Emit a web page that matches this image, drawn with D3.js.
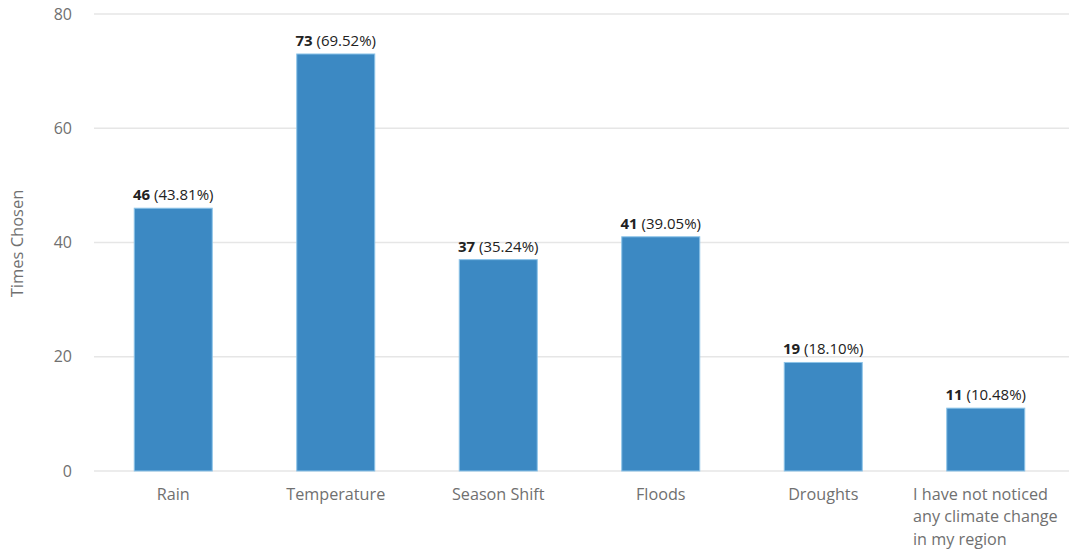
<!DOCTYPE html>
<html>
<head>
<meta charset="utf-8">
<script src="https://cdn.jsdelivr.net/npm/d3@7"></script>
<style>
  html, body { margin: 0; padding: 0; background: #fff; }
  svg { display: block; font-family: "Open Sans", sans-serif; }
</style>
</head>
<body>
<svg id="chart" width="1069" height="550"></svg>
<script>
// Survey responses: noticed climate changes
const categories = ["Rain", "Temperature", "Season Shift", "Floods", "Droughts",
  "I have not noticed any climate change in my region"];
const categoryLines = [["Rain"], ["Temperature"], ["Season Shift"], ["Floods"], ["Droughts"],
  ["I have not noticed", "any climate change", "in my region"]];
const counts = [46, 73, 37, 41, 19, 11];
const percents = ["43.81%", "69.52%", "35.24%", "39.05%", "18.10%", "10.48%"];
const yTicks = [0, 20, 40, 60, 80];

const svg = d3.select("#chart");
const plotLeft = 92, plotRight = 1067, plotTop = 14, plotBottom = 471;
const axisColor = "#707070";

const x = d3.scaleBand().domain(categories).range([plotLeft, plotRight]).paddingInner(0.52).paddingOuter(0.26);
const y = d3.scaleLinear().domain([0, 80]).range([plotBottom, plotTop]);

// gridlines
svg.append("g").selectAll("line").data(yTicks).join("line")
  .attr("x1", plotLeft + 2).attr("x2", 1069)
  .attr("y1", d => y(d)).attr("y2", d => y(d))
  .attr("stroke", "#e6e6e6").attr("stroke-width", 1.5);

// y axis labels
const yAxis = d3.axisLeft(y).tickValues(yTicks).tickSize(0).tickPadding(0);
const gy = svg.append("g").attr("transform", `translate(72,0)`).call(yAxis);
gy.select(".domain").remove();
gy.selectAll("text").attr("fill", axisColor).style("font-size", "16px")
  .style("font-family", "'Open Sans', sans-serif");

// y axis title
svg.append("text")
  .attr("transform", `translate(23,${(plotTop + plotBottom) / 2 + 1}) rotate(-90)`)
  .attr("text-anchor", "middle")
  .attr("fill", axisColor).style("font-size", "16.5px")
  .text("Times Chosen");

// bars
svg.append("g").selectAll("rect").data(categories).join("rect")
  .attr("x", d => x(d))
  .attr("y", (d, i) => y(counts[i]))
  .attr("width", x.bandwidth())
  .attr("height", (d, i) => y(0) - y(counts[i]))
  .attr("fill", "#3c89c3")
  .attr("stroke", "#8cc3e8").attr("stroke-width", 1);

// value labels
const lbl = svg.append("g").selectAll("text").data(categories).join("text")
  .attr("x", d => x(d) + x.bandwidth() / 2)
  .attr("y", (d, i) => y(counts[i]) - 8)
  .attr("text-anchor", "middle")
  .attr("fill", "#222").style("font-size", "15px");
lbl.append("tspan").attr("font-weight", "bold").text((d, i) => counts[i]);
lbl.append("tspan").text((d, i) => " (" + percents[i] + ")");

// category labels
const cat = svg.append("g").selectAll("text").data(categories).join("text")
  .attr("fill", axisColor).style("font-size", "16.2px");
cat.each(function(d, i) {
  const t = d3.select(this);
  const lines = categoryLines[i];
  const cx = x(d) + x.bandwidth() / 2;
  if (lines.length === 1) {
    t.attr("x", cx).attr("y", 500).attr("text-anchor", "middle").text(lines[0]);
  } else {
    t.attr("x", 913).attr("y", 500).attr("text-anchor", "start");
    lines.forEach((ln, k) => t.append("tspan").attr("x", 913).attr("y", 500 + k * 22.3).text(ln));
  }
});
</script>
</body>
</html>
